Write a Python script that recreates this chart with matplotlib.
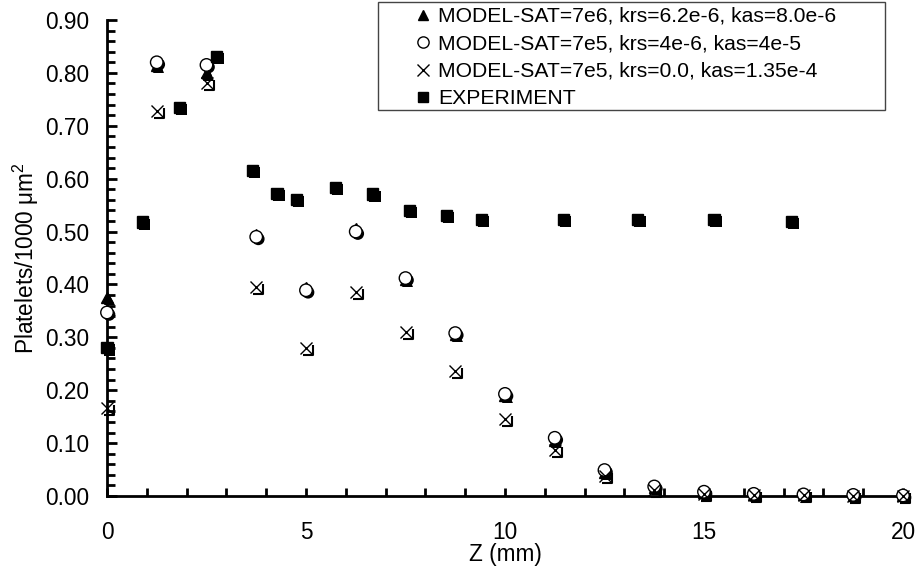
import numpy as np
import matplotlib
matplotlib.use('Agg')
import matplotlib.pyplot as plt
import matplotlib.patheffects as pe
from matplotlib.patches import Rectangle
from matplotlib.path import Path
from matplotlib.ticker import MultipleLocator, FormatStrFormatter

plt.rcParams['font.family'] = ['Liberation Sans', 'DejaVu Sans']
plt.rcParams['mathtext.fontset'] = 'custom'
plt.rcParams['mathtext.rm'] = 'Liberation Sans'
plt.rcParams['mathtext.it'] = 'Liberation Sans'

# model grid (mm)
z_model = [0, 1.25, 2.5, 3.75, 5.0, 6.25, 7.5, 8.75, 10.0, 11.25, 12.5,
           13.75, 15.0, 16.25, 17.5, 18.75, 20.0]

sat7e6 = [0.375, 0.815, 0.800, 0.495, 0.395, 0.505, 0.410, 0.305, 0.190,
          0.105, 0.045, 0.016, 0.007, 0.003, 0.002, 0.001, 0.001]
sat7e5_krs = [0.347, 0.820, 0.815, 0.490, 0.389, 0.500, 0.412, 0.308, 0.193,
              0.110, 0.049, 0.018, 0.008, 0.004, 0.003, 0.002, 0.001]
sat7e5_nokrs = [0.166, 0.728, 0.780, 0.395, 0.280, 0.386, 0.310, 0.237, 0.146,
                0.087, 0.038, 0.012, 0.003, 0.001, 0.001, 0.000, 0.000]

z_exp = [0.0, 0.9, 1.83, 2.76, 3.65, 4.27, 4.77, 5.75, 6.68, 7.59, 8.52,
         9.4, 11.46, 13.34, 15.25, 17.2]
exp = [0.280, 0.518, 0.735, 0.831, 0.615, 0.572, 0.561, 0.583, 0.571, 0.540,
       0.530, 0.523, 0.523, 0.523, 0.523, 0.519]

labels = ['MODEL-SAT=7e6, krs=6.2e-6, kas=8.0e-6',
          'MODEL-SAT=7e5, krs=4e-6, kas=4e-5',
          'MODEL-SAT=7e5, krs=0.0, kas=1.35e-4',
          'EXPERIMENT']

fig = plt.figure(figsize=(9.17, 5.69), dpi=100)
ax = fig.add_axes([107 / 917, 1 - 496 / 569, 796 / 917, 476 / 569])

shadow = [pe.SimplePatchShadow(offset=(1.5, -1.5), shadow_rgbFace='black', alpha=1.0), pe.Normal()]

l1, = ax.plot(z_model, sat7e6, ls='none', marker='^', ms=8, mfc='black', mec='black',
              clip_on=False, zorder=3)
l1.set_path_effects(shadow)
l2, = ax.plot(z_model, sat7e5_krs, ls='none', marker='o', ms=9, mfc='white', mec='black',
              mew=1.0, clip_on=False, zorder=4)
l2.set_path_effects(shadow)
# shadow corner behind the crosses
corner = Path([(-0.5, -1.0), (1.0, -1.0), (1.0, 0.5)], [Path.MOVETO, Path.LINETO, Path.LINETO])
ax.plot(z_model, sat7e5_nokrs, ls='none', marker=corner, ms=10, mfc='none', mec='black',
        mew=1.5, clip_on=False, zorder=5)
l3, = ax.plot(z_model, sat7e5_nokrs, ls='none', marker='x', ms=9, mec='black', mew=1.0,
              clip_on=False, zorder=5)
l4, = ax.plot(z_exp, exp, ls='none', marker='s', ms=8, mfc='black', mec='black',
              clip_on=False, zorder=6)
l4.set_path_effects(shadow)

ax.set_xlim(0, 20)
ax.set_ylim(0, 0.9)
ax.spines['top'].set_visible(False)
ax.spines['right'].set_visible(False)
for s in ['left', 'bottom']:
    ax.spines[s].set_linewidth(2)

ax.xaxis.set_major_locator(MultipleLocator(5))
ax.xaxis.set_minor_locator(MultipleLocator(1))
ax.yaxis.set_major_locator(MultipleLocator(0.1))
ax.yaxis.set_minor_locator(MultipleLocator(0.02))
ax.yaxis.set_major_formatter(FormatStrFormatter('%.2f'))

ax.tick_params(axis='y', which='both', direction='in', width=2, labelsize=16.3, pad=13)
ax.tick_params(axis='y', which='major', length=7)
ax.tick_params(axis='y', which='minor', length=6)
ax.tick_params(axis='x', which='both', direction='in', width=2, length=6, labelsize=16.3, pad=18)

ax.set_xlabel('Z (mm)', fontsize=16.3, labelpad=-1)
ax.set_ylabel('Platelets/1000 $\\mathrm{\\mu m^2}$', fontsize=16.3, labelpad=3)

# legend box drawn separately (Excel-style wide left margin)
fig.patches.append(Rectangle((378 / 917, 1 - 110 / 569), 507 / 917, 108 / 569,
                             transform=fig.transFigure, fill=False,
                             edgecolor='#444444', linewidth=1.0, zorder=10))
leg = fig.legend([l1, l2, l3, l4], labels, loc='upper left',
                 bbox_to_anchor=(415 / 917, 1 - 7 / 569), borderaxespad=0,
                 borderpad=0, fontsize=15.2, frameon=False, handlelength=0.8,
                 handletextpad=0.3, labelspacing=0.4, markerscale=0.9)
for h in leg.legend_handles:
    h.set_path_effects([])

fig.savefig('out.png', dpi=100)
